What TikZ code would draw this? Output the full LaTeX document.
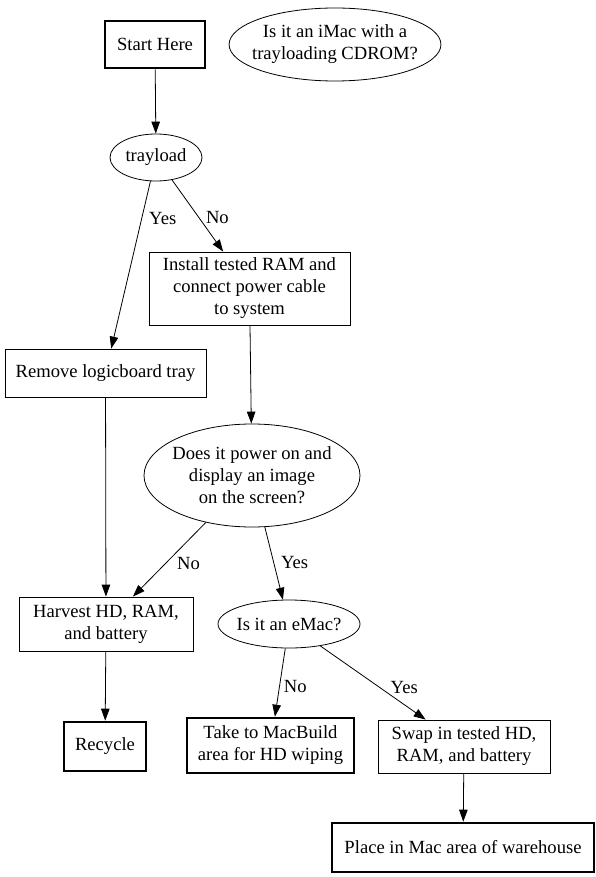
\documentclass[tikz,border=0pt]{standalone}
\usepackage{fontspec}
\setmainfont{Liberation Serif}
\usetikzlibrary{shapes, arrows.meta, positioning}

\begin{document}
\begin{tikzpicture}[x=1pt, y=-1pt, ->, >={Triangle[length=12pt, width=8.5pt]},
line width=0.8pt, font=\fontsize{18.6}{22}\selectfont,
proc/.style={rectangle, draw, align=center, inner sep=0pt},
endbox/.style={proc, line width=2.6pt},
query/.style={ellipse, draw, align=center, inner sep=-8pt},
lbl/.style={inner sep=1pt}]

\useasboundingbox (0,0) rectangle (596,877);

\node [endbox, minimum width=100pt, minimum height=47pt] (start) at (155,44.5) {Start Here};
\node [query, minimum width=206pt, minimum height=73pt] (imac) at (335,44.5) {Is it an iMac with a\\trayloading CDROM?};
\node [query, minimum width=92pt, minimum height=47pt] (trayload) at (156,157.5) {trayload};
\path (start) edge (trayload);

\node [proc, minimum width=201pt, minimum height=73pt] (install) at (249.5,288.5) {Install tested RAM and\\connect power cable\\to system};
\node [proc, minimum width=201pt, minimum height=48pt] (remove) at (105.5,373) {Remove logicboard tray};
\path (trayload) edge node [lbl, right=6pt, pos=.22] {Yes} (remove);
\path (trayload) edge node [lbl, right=6pt, pos=.52] {No} (install);

\node [query, minimum width=216pt, minimum height=103pt] (power) at (252,475.5) {Does it power on and\\display an image\\on the screen?};
\path (install) edge (power);

\node [proc, minimum width=174pt, minimum height=54pt] (harvest) at (106,624) {Harvest HD, RAM,\\and battery};
\node [query, minimum width=142pt, minimum height=48pt] (emac) at (289,624) {Is it an eMac?};
\path (remove) edge (harvest);
\path (power) edge node [lbl, right=10pt, pos=.55] {No} (harvest);
\path (power) edge node [lbl, right=6pt, pos=.49] {Yes} (emac);

\node [endbox, minimum width=82pt, minimum height=49pt] (recycle) at (105,746.5) {Recycle};
\node [endbox, minimum width=167pt, minimum height=55pt] (macbuild) at (270.5,745.5) {Take to MacBuild\\area for HD wiping};
\node [proc, minimum width=172pt, minimum height=53pt] (swap) at (464,746.5) {Swap in tested HD,\\RAM, and battery};
\path (harvest) edge (recycle);
\path (emac) edge node [lbl, right=3pt, pos=.56] {No} (macbuild);
\path (emac) edge node [lbl, right=10pt, pos=.56] {Yes} (swap);

\node [endbox, minimum width=262pt, minimum height=49pt] (warehouse) at (463,847.5) {Place in Mac area of warehouse};
\path (swap) edge (warehouse);
\end{tikzpicture}
\end{document}
